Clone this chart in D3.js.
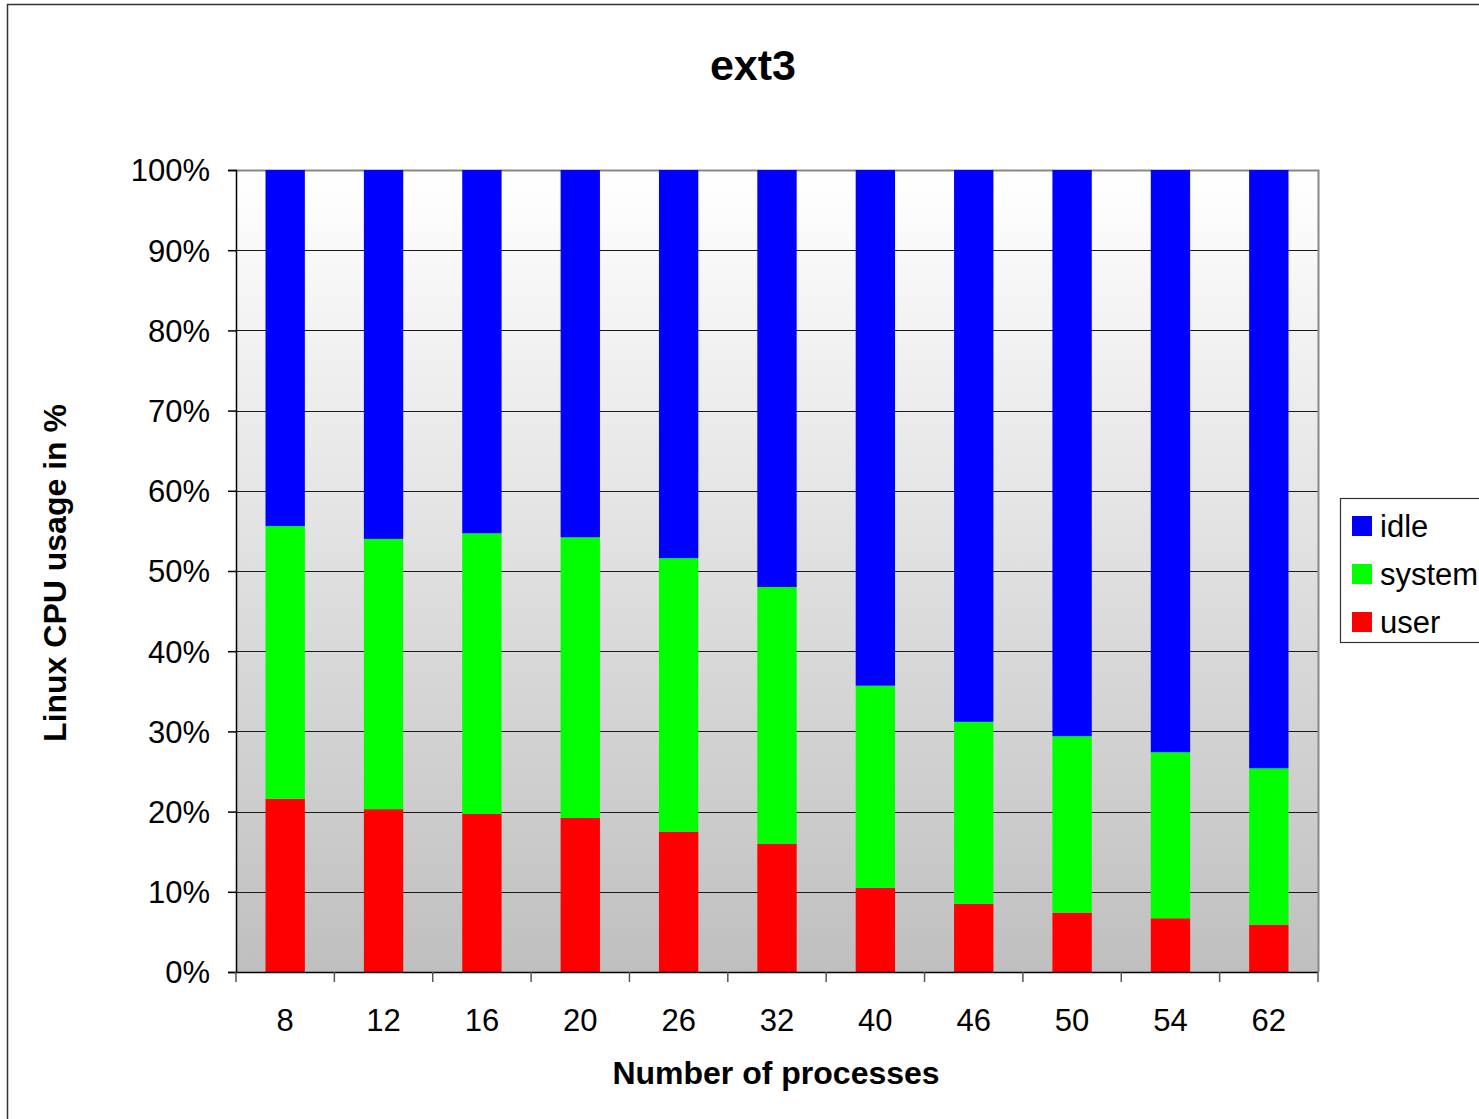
<!DOCTYPE html>
<html>
<head>
<meta charset="utf-8">
<script src="https://cdn.jsdelivr.net/npm/d3@7"></script>
<style>
  html, body { margin: 0; padding: 0; background: #fff; }
  svg { display: block; font-family: "Liberation Sans", Arial, sans-serif; }
</style>
</head>
<body>
<svg id="chart" width="1479" height="1119"></svg>
<script>
// CPU usage breakdown per process count (percent)
const processes = ["8", "12", "16", "20", "26", "32", "40", "46", "50", "54", "62"];
const user   = [21.6, 20.3, 19.7, 19.2, 17.5, 16.0, 10.5, 8.5, 7.4, 6.7, 5.9];
const system = [34.0, 33.7, 35.0, 35.0, 34.1, 32.0, 25.2, 22.7, 22.0, 20.7, 19.5];
const idle   = user.map((u, i) => +(100 - u - system[i]).toFixed(1));
const seriesNames = ["user", "system", "idle"];
const seriesColors = { user: "#ff0000", system: "#00ff00", idle: "#0000ff" };
const yTicks = [0, 10, 20, 30, 40, 50, 60, 70, 80, 90, 100];

const rows = processes.map((p, i) => ({ p, user: user[i], system: system[i], idle: idle[i] }));

const svg = d3.select("#chart");
const plot = { left: 236, right: 1318, top: 170, bottom: 972 };

// outer chart frame
svg.append("rect")
  .attr("x", 7.5).attr("y", 4.5)
  .attr("width", 1490).attr("height", 1130)
  .attr("fill", "#fff").attr("stroke", "#333").attr("stroke-width", 1.5);

const x = d3.scaleBand().domain(processes).range([plot.left, plot.right]).paddingInner(0.6).paddingOuter(0.3);
const y = d3.scaleLinear().domain([0, 100]).range([plot.bottom, plot.top]);

// plot background gradient
const defs = svg.append("defs");
const grad = defs.append("linearGradient").attr("id", "bg").attr("x1", 0).attr("y1", 0).attr("x2", 0).attr("y2", 1);
grad.append("stop").attr("offset", "0%").attr("stop-color", "#ffffff");
grad.append("stop").attr("offset", "100%").attr("stop-color", "#bfbfbf");

svg.append("rect")
  .attr("x", plot.left).attr("y", plot.top)
  .attr("width", plot.right - plot.left).attr("height", plot.bottom - plot.top)
  .attr("fill", "url(#bg)");

// gridlines
svg.append("g").selectAll("line")
  .data(yTicks.filter(t => t > 0 && t < 100))
  .join("line")
  .attr("x1", plot.left).attr("x2", plot.right)
  .attr("y1", d => Math.round(y(d)) + 0.5).attr("y2", d => Math.round(y(d)) + 0.5)
  .attr("stroke", "#1a1a1a").attr("stroke-width", 1.2);

// plot border (top and right)
svg.append("path")
  .attr("d", `M${plot.left},${plot.top + 0.5}H${plot.right + 0.5}V${plot.bottom}`)
  .attr("fill", "none").attr("stroke", "#888").attr("stroke-width", 2);

// stacked bars
const stack = d3.stack().keys(seriesNames)(rows);
svg.append("g").selectAll("g")
  .data(stack)
  .join("g")
  .attr("fill", d => seriesColors[d.key])
  .selectAll("rect")
  .data(d => d)
  .join("rect")
  .attr("x", d => x(d.data.p))
  .attr("width", x.bandwidth())
  .attr("y", d => y(d[1]))
  .attr("height", d => y(d[0]) - y(d[1]));

// y axis
const yAxis = d3.axisLeft(y).tickValues(yTicks).tickFormat(d => d + "%").tickSize(8).tickPadding(18);
const gy = svg.append("g").attr("transform", `translate(${plot.left},0)`).call(yAxis);
gy.select(".domain").attr("stroke", "#000").attr("stroke-width", 1.5);
gy.selectAll(".tick line").attr("stroke", "#000").attr("stroke-width", 1.5);
gy.selectAll("text").attr("font-size", 31).attr("fill", "#000").attr("dy", "0.35em");

// x axis: ticks between categories
const xAxisG = svg.append("g");
xAxisG.append("line")
  .attr("x1", plot.left).attr("x2", plot.right)
  .attr("y1", plot.bottom + 0.5).attr("y2", plot.bottom + 0.5)
  .attr("stroke", "#000").attr("stroke-width", 1.5);
const boundaries = d3.range(processes.length + 1).map(i => plot.left + i * (plot.right - plot.left) / processes.length);
xAxisG.selectAll("line.tk").data(boundaries).join("line").attr("class", "tk")
  .attr("x1", d => d).attr("x2", d => d)
  .attr("y1", plot.bottom).attr("y2", plot.bottom + 10)
  .attr("stroke", "#555").attr("stroke-width", 1.5);
xAxisG.selectAll("text").data(processes).join("text")
  .attr("x", d => x(d) + x.bandwidth() / 2)
  .attr("y", 1031)
  .attr("text-anchor", "middle")
  .attr("font-size", 31).attr("fill", "#000")
  .text(d => d);

// titles
svg.append("text").attr("x", 753).attr("y", 80).attr("text-anchor", "middle")
  .attr("font-size", 43).attr("font-weight", "bold").text("ext3");
svg.append("text").attr("x", 776).attr("y", 1084).attr("text-anchor", "middle")
  .attr("font-size", 32).attr("font-weight", "bold").text("Number of processes");
svg.append("text").attr("transform", "translate(66,573) rotate(-90)").attr("text-anchor", "middle")
  .attr("font-size", 32).attr("font-weight", "bold").text("Linux CPU usage in %");

// legend
const legend = svg.append("g");
legend.append("rect").attr("x", 1340.5).attr("y", 498.5).attr("width", 160).attr("height", 144)
  .attr("fill", "#fff").attr("stroke", "#333").attr("stroke-width", 1.2);
const legendItems = ["idle", "system", "user"];
legendItems.forEach((k, i) => {
  const cy = 526 + i * 48;
  legend.append("rect").attr("x", 1352).attr("y", cy - 10).attr("width", 20).attr("height", 20)
    .attr("fill", seriesColors[k]);
  legend.append("text").attr("x", 1380).attr("y", cy).attr("dy", "0.35em")
    .attr("font-size", 31).attr("fill", "#000").text(k);
});
</script>
</body>
</html>
